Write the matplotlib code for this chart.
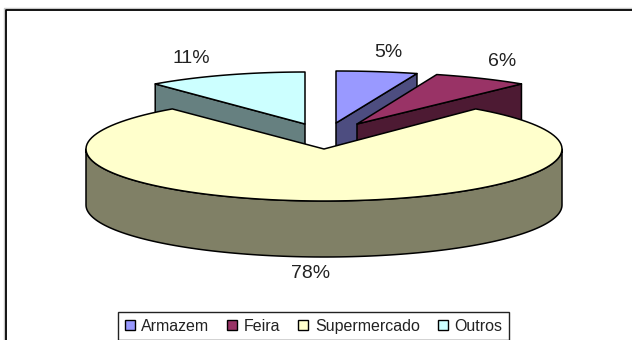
import numpy as np
import matplotlib
matplotlib.use("Agg")
import matplotlib.pyplot as plt
from matplotlib.patches import Polygon, Patch

categories = ["Armazem", "Feira", "Supermercado", "Outros"]
shares = [5, 6, 78, 11]

top_colors = ["#9999FF", "#993366", "#FFFFCC", "#CCFFFF"]
side_colors = ["#4D4D80", "#4D1A33", "#808066", "#668080"]
centers_x = [336, 357, 324, 305]
centers_y = [123, 124, 149, 124]
radii_x = [262, 258, 238, 235]
radii_y = [52, 52, 52, 52]
depth = 56
label_offsets = [(11, -19), (21, -17), (-13, 17), (-34, -17)]
draw_order = [3, 0, 1, 2]

plt.rcParams["font.family"] = ["Liberation Sans", "DejaVu Sans"]
fig = plt.figure(figsize=(6.32, 3.40), dpi=100)
ax = fig.add_axes([0, 0, 1, 1])
ax.set_xlim(0, 632)
ax.set_ylim(340, 0)
ax.axis("off")

# chart frame, which runs off the right and bottom of the picture
ax.plot([4, 4, 640], [345, 8, 8], color="#C8C8C8", lw=1.0, zorder=1)
ax.plot([5.5, 5.5, 640], [345, 9.5, 9.5], color="black", lw=1.3, zorder=2)

fractions = np.array(shares) / sum(shares)
ends = 90 - 360 * np.cumsum(fractions)
starts = np.r_[90, ends[:-1]]


def arc(i, a0, a1, n=120):
    t = np.radians(np.linspace(a0, a1, n))
    return np.c_[centers_x[i] + radii_x[i] * np.cos(t),
                 centers_y[i] - radii_y[i] * np.sin(t)]


z = 3
lw = 1.1
for i in draw_order:
    cx, cy = centers_x[i], centers_y[i]
    apex = np.array([[cx, cy]])
    rim = arc(i, starts[i], ends[i])
    down = np.array([0, depth])
    # cut faces seen from the front
    if i == 3:
        edge = np.vstack([rim[:1], apex])
    else:
        edge = np.vstack([apex, rim[-1:]])
    if i != 2:
        face = np.vstack([edge, edge[::-1] + down])
        ax.add_patch(Polygon(face, closed=True, fc=side_colors[i], ec="black",
                             lw=lw, joinstyle="round", zorder=z))
        z += 1
    else:
        # outer wall of the large slice, lower half of the ellipse
        wall = arc(i, 180, 360)
        ax.add_patch(Polygon(np.vstack([wall, wall[::-1] + down]), closed=True,
                             fc=side_colors[i], ec="black", lw=lw,
                             joinstyle="round", zorder=z))
        z += 1
    ax.add_patch(Polygon(np.vstack([apex, rim]), closed=True, fc=top_colors[i],
                         ec="black", lw=lw, joinstyle="round", zorder=z))
    z += 1

# percentage labels, anchored to the rim at each slice's middle angle
for i, value in enumerate(shares):
    mid = (starts[i] + ends[i]) / 2
    p = arc(i, mid, mid, 1)[0]
    if i == 2:
        p = p + np.array([0, depth])
    dx, dy = label_offsets[i]
    ax.text(p[0] + dx, p[1] + dy, f"{value}%", fontsize=14, color="#222222",
            ha="center", va="center", zorder=30)

handles = [Patch(fc=c, ec="black", lw=1.0) for c in top_colors]
leg = ax.legend(handles, categories, loc="upper left",
                bbox_to_anchor=(118 / 632, 1 - 312 / 340), ncol=4,
                fontsize=11.5, frameon=True, fancybox=False, framealpha=1,
                edgecolor="#222222", borderaxespad=0, borderpad=0.42,
                handlelength=0.62, handleheight=0.62, handletextpad=0.42,
                columnspacing=1.12, labelcolor="#222222")
leg.get_frame().set_linewidth(1.0)
leg.set_zorder(40)

fig.savefig("out.png", dpi=100)
